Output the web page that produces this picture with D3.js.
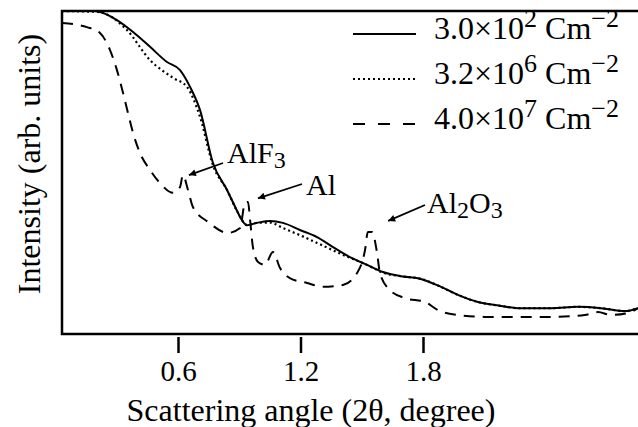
<!DOCTYPE html>
<html>
<head>
<meta charset="utf-8">
<script src="https://cdn.jsdelivr.net/npm/d3@7"></script>
<style>
  body { margin: 0; background: #fff; }
  text { font-family: "Liberation Serif", "Times New Roman", serif; fill: #000; }
</style>
</head>
<body>
<div class="container"></div>
<script>
var w = 638, h = 427

// data (x = 2theta in degree, y = relative intensity)
var xTicks = [0.6, 1.2, 1.8]

var lowDose = [ // 3.0x10^2 Cm-2
  [0.032, 1.0], [0.194, 1.0], [0.218, 0.997], [0.301, 0.972], [0.380, 0.935],
  [0.463, 0.889], [0.546, 0.842], [0.610, 0.817], [0.659, 0.765], [0.708, 0.693],
  [0.771, 0.530], [0.840, 0.446], [0.894, 0.375], [0.904, 0.362], [0.938, 0.337],
  [0.987, 0.344], [1.051, 0.350], [1.114, 0.344], [1.197, 0.322], [1.281, 0.300],
  [1.359, 0.269], [1.442, 0.238], [1.526, 0.214], [1.604, 0.192], [1.702, 0.178],
  [1.780, 0.172], [1.888, 0.146], [1.971, 0.121], [2.069, 0.099], [2.182, 0.087],
  [2.265, 0.080], [2.427, 0.080], [2.559, 0.084], [2.671, 0.080], [2.789, 0.071],
  [2.853, 0.080]
]

var midDose = [ // 3.2x10^6 Cm-2
  [0.032, 1.0], [0.208, 0.997], [0.350, 0.941], [0.463, 0.848], [0.576, 0.793],
  [0.644, 0.765], [0.708, 0.672], [0.771, 0.523], [0.840, 0.446], [0.894, 0.375],
  [0.938, 0.337], [0.987, 0.344], [1.051, 0.345], [1.114, 0.328], [1.197, 0.306],
  [1.281, 0.282], [1.408, 0.245], [1.526, 0.214], [1.604, 0.190], [1.702, 0.178],
  [1.780, 0.172], [1.888, 0.146], [1.971, 0.121], [2.069, 0.099], [2.182, 0.087],
  [2.265, 0.080], [2.427, 0.080], [2.559, 0.084], [2.671, 0.080], [2.789, 0.071],
  [2.853, 0.080]
]

var highDose = [ // 4.0x10^7 Cm-2
  [0.032, 0.963], [0.154, 0.950], [0.218, 0.932], [0.267, 0.879], [0.301, 0.817],
  [0.331, 0.746], [0.355, 0.684], [0.380, 0.622], [0.414, 0.560], [0.463, 0.508],
  [0.512, 0.467], [0.576, 0.437], [0.610, 0.455], [0.624, 0.492], [0.649, 0.446],
  [0.673, 0.393], [0.747, 0.347], [0.845, 0.313], [0.904, 0.328], [0.928, 0.406],
  [0.943, 0.409], [0.953, 0.353], [0.967, 0.269], [0.992, 0.223], [1.026, 0.214],
  [1.065, 0.254], [1.100, 0.204], [1.148, 0.173], [1.232, 0.158], [1.310, 0.146],
  [1.408, 0.152], [1.477, 0.189], [1.516, 0.260], [1.530, 0.316], [1.550, 0.316],
  [1.575, 0.251], [1.589, 0.189], [1.638, 0.136], [1.712, 0.111], [1.810, 0.099],
  [1.873, 0.074], [1.971, 0.059], [2.103, 0.053], [2.265, 0.053], [2.427, 0.053],
  [2.593, 0.059], [2.657, 0.068], [2.720, 0.059], [2.804, 0.065], [2.853, 0.080]
]

var legendData = [
  { mant: '3.0\u00d710', exp: '2', dash: null, data: lowDose },
  { mant: '3.2\u00d710', exp: '6', dash: '2,3', data: midDose },
  { mant: '4.0\u00d710', exp: '7', dash: '11,8', data: highDose }
]

var svg = d3.select('.container')
  .append('svg')
  .attr('width', w)
  .attr('height', h)

var x = d3.scaleLinear().domain([0.6, 1.8]).range([178, 423])
var y = d3.scaleLinear().domain([0, 1]).range([334, 11])
var x0 = 62, x1 = 660

// frame
svg.append('path')
  .attr('d', 'M' + x1 + ',' + y(1) + 'H' + x0 + 'V' + y(0) + 'H' + x1)
  .style('fill', 'none')
  .style('stroke', '#000')
  .style('stroke-width', 2.5)

// x axis ticks + labels
var xAxis = svg.append('g')
  .attr('transform', 'translate(0,' + (y(0) + 3) + ')')
  .call(d3.axisBottom(x).tickValues(xTicks).tickSize(16).tickPadding(7)
    .tickFormat(d3.format('.1f')))
xAxis.select('.domain').remove()
xAxis.selectAll('line').style('stroke-width', 2.5)
xAxis.selectAll('text')
  .style('font-family', '"Liberation Serif", serif')
  .style('font-size', '29px')

svg.append('text')
  .attr('x', 311)
  .attr('y', 421)
  .attr('text-anchor', 'middle')
  .style('font-size', '32px')
  .text('Scattering angle (2\u03b8, degree)')

svg.append('text')
  .attr('transform', 'translate(40,164) rotate(-90)')
  .attr('text-anchor', 'middle')
  .style('font-size', '32px')
  .text('Intensity (arb. units)')

// curves
var line = d3.line()
  .x(d => x(d[0]))
  .y(d => y(d[1]))
  .curve(d3.curveMonotoneX)

svg.append('g')
  .selectAll('path')
  .data(legendData)
  .enter()
  .append('path')
  .attr('d', d => line(d.data))
  .style('fill', 'none')
  .style('stroke', '#000')
  .style('stroke-width', d => d.dash == '2,3' ? 2.2 : 2)
  .style('stroke-dasharray', d => d.dash)

// legend
var lg = svg.append('g')
  .selectAll('g')
  .data(legendData)
  .enter()
  .append('g')
  .attr('transform', (d, i) => 'translate(0,' + (39 + i * 45) + ')')

lg.append('line')
  .attr('x1', 353).attr('x2', 416)
  .attr('y1', -5).attr('y2', -5)
  .style('stroke', '#000')
  .style('stroke-width', 2)
  .style('stroke-dasharray', d => d.dash == '11,8' ? '12,13' : d.dash)

var lt = lg.append('text')
  .attr('x', 434)
  .style('font-size', '32px')
lt.append('tspan').text(d => d.mant)
lt.append('tspan').attr('dy', -12).style('font-size', '26px').text(d => d.exp)
lt.append('tspan').attr('dy', 12).text(' Cm')
lt.append('tspan').attr('dy', -12).style('font-size', '26px').text('\u22122')

// peak labels with arrows
var peaks = [
  { name: 'AlF', sub: '3', tx: 227, ty: 163, from: [223, 163], to: [0.624, 0.492] },
  { name: 'Al', sub: '', tx: 306, ty: 195, from: [302, 184], to: [0.962, 0.42] },
  { name: 'Al', sub: '2', name2: 'O', sub2: '3', tx: 427, ty: 213, from: [425, 205], to: [1.6, 0.35] }
]

svg.append('defs').append('marker')
  .attr('id', 'arr')
  .attr('viewBox', '0 0 10 10')
  .attr('refX', 10).attr('refY', 5)
  .attr('markerWidth', 14).attr('markerHeight', 7)
  .attr('markerUnits', 'userSpaceOnUse')
  .attr('orient', 'auto')
  .append('path')
  .attr('d', 'M0,0L10,5L0,10Z')
  .style('fill', '#000')

svg.append('g')
  .selectAll('line')
  .data(peaks)
  .enter()
  .append('line')
  .attr('x1', d => d.from[0]).attr('y1', d => d.from[1])
  .attr('x2', d => x(d.to[0]) + 6).attr('y2', d => y(d.to[1]))
  .style('stroke', '#000')
  .style('stroke-width', 1.8)
  .attr('marker-end', 'url(#arr)')

var pt = svg.append('g')
  .selectAll('text')
  .data(peaks)
  .enter()
  .append('text')
  .attr('x', d => d.tx)
  .attr('y', d => d.ty)
  .style('font-size', '30px')
pt.append('tspan').text(d => d.name)
pt.append('tspan').attr('dy', 5).style('font-size', '24px').text(d => d.sub)
pt.append('tspan').attr('dy', -5).text(d => d.name2 || '')
pt.append('tspan').attr('dy', 5).style('font-size', '24px').text(d => d.sub2 || '')
</script>
</body>
</html>
